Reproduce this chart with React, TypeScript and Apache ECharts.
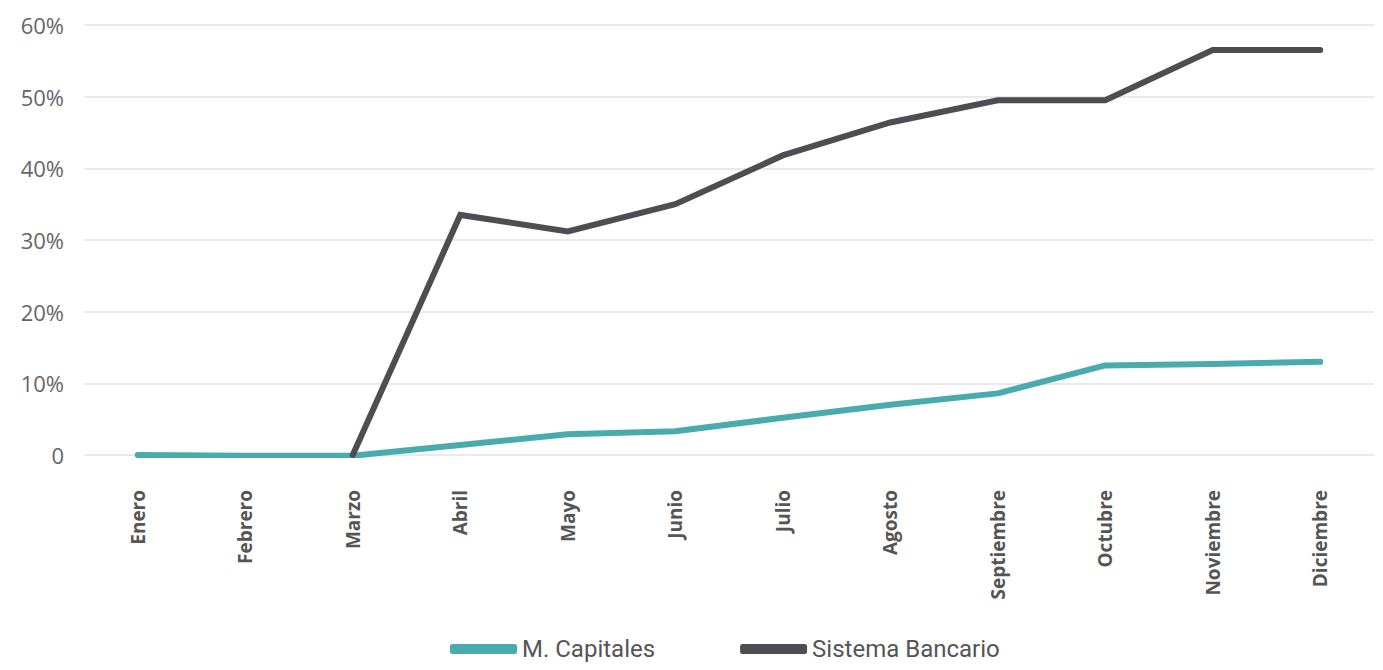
import React, { useEffect, useRef } from "react";
import * as echarts from "echarts";

const months = ["Enero", "Febrero", "Marzo", "Abril", "Mayo", "Junio", "Julio", "Agosto", "Septiembre", "Octubre", "Noviembre", "Diciembre"];
const capitales = [0, -0.1, -0.1, 1.4, 2.9, 3.3, 5.2, 7.0, 8.6, 12.5, 12.7, 13.0];
const bancario = [null, null, 0, 33.5, 31.2, 35.0, 41.8, 46.4, 49.5, 49.5, 56.5, 56.5];
const yTicks = [0, 10, 20, 30, 40, 50, 60];

export default function App() {
  const ref = useRef<HTMLDivElement>(null);
  useEffect(() => {
    const chart = echarts.init(ref.current!, null, { renderer: "svg" });
    chart.setOption({
      animation: false,
      backgroundColor: "#ffffff",
      grid: { left: 76, right: 1, top: 17, bottom: 215 },
      legend: {
        bottom: 4,
        left: 437,
        itemWidth: 67,
        itemHeight: 10,
        itemGap: 85,
        icon: "roundRect",
        textStyle: { fontFamily: "Roboto", fontSize: 24, color: "#555" },
        data: ["M. Capitales", "Sistema Bancario"],
      },
      xAxis: {
        type: "category",
        data: months,
        boundaryGap: true,
        axisLine: { show: false },
        axisTick: { show: false },
        axisLabel: {
          rotate: 90,
          interval: 0,
          margin: 35,
          fontFamily: "Open Sans",
          fontWeight: "bold",
          fontSize: 19,
          color: "#555",
        },
      },
      yAxis: {
        type: "value",
        min: yTicks[0],
        max: yTicks[yTicks.length - 1],
        interval: 10,
        axisLine: { show: false },
        axisTick: { show: false },
        splitLine: { lineStyle: { color: "#e3e3e3", width: 1.5 } },
        axisLabel: {
          margin: 20,
          fontFamily: "Open Sans",
          fontSize: 22,
          color: "#666",
          formatter: (v: number) => (v === 0 ? "0" : v + "%"),
        },
      },
      series: [
        {
          name: "M. Capitales",
          type: "line",
          data: capitales,
          symbol: "none",
          lineStyle: { color: "#4aabae", width: 6, cap: "round", join: "round" },
          itemStyle: { color: "#4aabae" },
        },
        {
          name: "Sistema Bancario",
          type: "line",
          data: bancario,
          symbol: "none",
          lineStyle: { color: "#4d4d52", width: 6, cap: "round", join: "miter" },
          itemStyle: { color: "#4d4d52" },
        },
      ],
    });
    return () => chart.dispose();
  }, []);
  return <div ref={ref} style={{ width: 1367, height: 662 }} />;
}
